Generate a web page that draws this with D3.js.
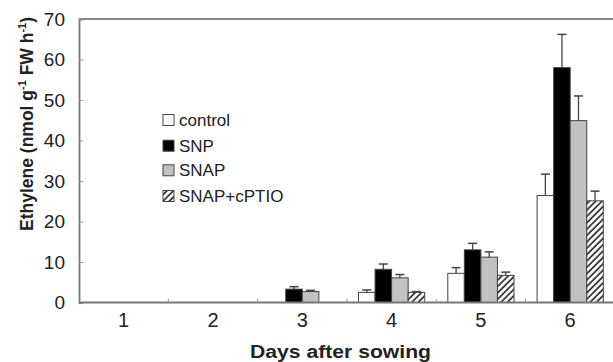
<!DOCTYPE html>
<html>
<head>
<meta charset="utf-8">
<script src="https://cdn.jsdelivr.net/npm/d3@7"></script>
<style>
  html, body { margin: 0; padding: 0; background: #fff; }
  svg { display: block; }
  text { font-family: "Liberation Sans", Arial, Helvetica, sans-serif; fill: #222; }
</style>
</head>
<body>
<svg id="chart" width="613" height="362"></svg>
<script>
// ---- data ----
const days = ["1", "2", "3", "4", "5", "6"];
const seriesNames = ["control", "SNP", "SNAP", "SNAP+cPTIO"];
const control    = [0, 0, 0,   2.5, 7.2, 26.4];
const snp        = [0, 0, 3.3, 8.2, 13.0, 58.0];
const snap       = [0, 0, 2.7, 6.1, 11.2, 44.9];
const snapCptio  = [0, 0, 0,   2.5, 6.7, 25.1];
const controlErr   = [0, 0, 0,   0.6, 1.4, 5.3];
const snpErr       = [0, 0, 0.6, 1.3, 1.6, 8.2];
const snapErr      = [0, 0, 0.3, 0.8, 1.3, 6.1];
const snapCptioErr = [0, 0, 0,   0.2, 0.8, 2.4];
const yTicks = [0, 10, 20, 30, 40, 50, 60, 70];

const values = [control, snp, snap, snapCptio];
const errors = [controlErr, snpErr, snapErr, snapCptioErr];

const svg = d3.select("#chart");

// patterns
const defs = svg.append("defs");
defs.append("pattern")
  .attr("id", "hatch")
  .attr("patternUnits", "userSpaceOnUse")
  .attr("width", 4.5).attr("height", 4.5)
  .attr("patternTransform", "rotate(45)")
  .call(p => {
    p.append("rect").attr("width", 4.5).attr("height", 4.5).attr("fill", "#fff");
    p.append("line").attr("x1", 1).attr("y1", 0).attr("x2", 1).attr("y2", 4.5)
      .attr("stroke", "#222").attr("stroke-width", 1.6);
  });

const fills = ["#ffffff", "#000000", "#c2c2c2", "url(#hatch)"];

// scales
const x0 = d3.scaleBand().domain(days).range([79, 79 + 6 * 89.3]);
const x1 = d3.scaleBand().domain(seriesNames).range([11.6, 77.8]);
const y = d3.scaleLinear().domain([0, 70]).range([302.5, 19]);

const axisColor = "#777";

// bars
seriesNames.forEach((s, si) => {
  const g = svg.append("g");
  days.forEach((d, di) => {
    const v = values[si][di];
    if (!v) return;
    const bx = x0(d) + x1(s);
    const bw = x1.bandwidth();
    g.append("rect")
      .attr("x", bx).attr("y", y(v))
      .attr("width", bw).attr("height", y(0) - y(v))
      .attr("fill", fills[si])
      .attr("stroke", "#444").attr("stroke-width", 1);
    const e = errors[si][di];
    if (e) {
      const cx = bx + bw / 2;
      g.append("line").attr("x1", cx).attr("x2", cx)
        .attr("y1", y(v)).attr("y2", y(v + e))
        .attr("stroke", "#444").attr("stroke-width", 1.3);
      g.append("line").attr("x1", cx - 4.5).attr("x2", cx + 4.5)
        .attr("y1", y(v + e)).attr("y2", y(v + e))
        .attr("stroke", "#444").attr("stroke-width", 1.5);
    }
  });
});

// top frame line
svg.append("line")
  .attr("x1", 79).attr("x2", 613).attr("y1", y(70)).attr("y2", y(70))
  .attr("stroke", "#888").attr("stroke-width", 1.8);

// y axis
const yAxis = svg.append("g").attr("transform", "translate(79,0)")
  .call(d3.axisRight(y).tickValues(yTicks).tickSize(4).tickFormat(""));
yAxis.select(".domain").attr("stroke", axisColor).attr("stroke-width", 1.8);
yAxis.selectAll(".tick line").attr("stroke", "#999");
svg.append("g").selectAll("text").data(yTicks).join("text")
  .attr("x", 65).attr("y", d => y(d))
  .attr("dy", "0.36em")
  .attr("text-anchor", "end")
  .attr("font-size", 19)
  .text(d => d);

// x axis
svg.append("line")
  .attr("x1", 79).attr("x2", 613).attr("y1", y(0)).attr("y2", y(0))
  .attr("stroke", axisColor).attr("stroke-width", 1.8);
svg.append("g").selectAll("line").data(days.slice(1)).join("line")
  .attr("x1", d => x0(d)).attr("x2", d => x0(d))
  .attr("y1", y(0)).attr("y2", y(0) - 4)
  .attr("stroke", "#999").attr("stroke-width", 1);
svg.append("g").selectAll("text").data(days).join("text")
  .attr("x", d => x0(d) + x0.bandwidth() / 2)
  .attr("y", 327)
  .attr("text-anchor", "middle")
  .attr("font-size", 20)
  .text(d => d);

// axis titles
svg.append("text")
  .attr("x", 340.5).attr("y", 358.3)
  .attr("text-anchor", "middle")
  .attr("font-size", 18).attr("font-weight", "bold")
  .attr("textLength", 181).attr("lengthAdjust", "spacingAndGlyphs")
  .text("Days after sowing");

const yl = svg.append("text")
  .attr("transform", "translate(33,124) rotate(-90)")
  .attr("text-anchor", "middle")
  .attr("font-size", 17.5).attr("font-weight", "bold");
yl.append("tspan").text("Ethylene (nmol g");
yl.append("tspan").attr("font-size", 11).attr("dy", -7).text("-1");
yl.append("tspan").attr("dy", 7).text(" FW h");
yl.append("tspan").attr("font-size", 11).attr("dy", -7).text("-1");
yl.append("tspan").attr("dy", 7).text(")");

// legend
const legendY = [120, 145.7, 170.3, 196];
const lg = svg.append("g");
seriesNames.forEach((s, i) => {
  lg.append("rect")
    .attr("x", 163).attr("y", legendY[i] - 5.5)
    .attr("width", 11).attr("height", 11)
    .attr("fill", fills[i]).attr("stroke", "#444").attr("stroke-width", 1);
  lg.append("text")
    .attr("x", 179).attr("y", legendY[i])
    .attr("dy", "0.36em")
    .attr("font-size", 17)
    .text(s);
});
</script>
</body>
</html>
